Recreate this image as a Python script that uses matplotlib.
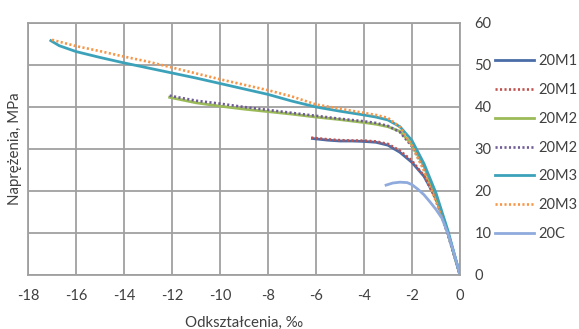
import matplotlib
matplotlib.use('Agg')
from matplotlib import pyplot as plt

plt.rcParams['font.family'] = ['Lato', 'DejaVu Sans']
plt.rcParams['axes.unicode_minus'] = False

# strain [permille] / stress [MPa] for each specimen
m1_x = [-6.15, -5.5, -5.0, -4.5, -4.0, -3.5, -3.0, -2.5, -2.0, -1.5, -1.0, -0.5, 0.0]
m1_y = [32.5, 32.1, 31.9, 31.9, 31.8, 31.6, 30.9, 29.2, 26.8, 23.5, 18.3, 10.0, 0.0]

m1b_x = [-6.2, -5.5, -5.0, -4.5, -4.0, -3.5, -3.0, -2.5, -2.0, -1.5, -1.0, -0.75]
m1b_y = [32.7, 32.3, 32.1, 32.0, 32.0, 31.8, 31.2, 29.6, 27.2, 23.6, 18.0, 14.3]

m2_x = [-12.1, -11.0, -10.0, -9.0, -8.0, -7.0, -6.0, -5.0, -4.0, -3.5, -3.0, -2.5, -2.0, -1.5, -1.0, -0.5, 0.0]
m2_y = [42.3, 41.0, 40.2, 39.5, 38.9, 38.3, 37.6, 37.0, 36.3, 35.9, 35.3, 34.2, 31.0, 25.8, 18.5, 9.8, 0.0]

m2b_x = [-12.1, -11.0, -10.0, -9.0, -8.0, -7.0, -6.0, -5.0, -4.0, -3.5, -3.0, -2.5, -2.0, -1.5, -1.0, -0.5, 0.0]
m2b_y = [42.7, 41.5, 40.8, 40.0, 39.3, 38.6, 37.9, 37.2, 36.6, 36.2, 35.5, 34.0, 30.6, 25.2, 18.0, 9.5, 0.0]

m3_x = [-17.05, -16.7, -16.0, -15.0, -14.0, -13.0, -12.0, -11.0, -10.0, -9.0, -8.0, -7.0, -6.0,
        -5.0, -4.0, -3.5, -3.0, -2.5, -2.0, -1.5, -1.0, -0.5, 0.0]
m3_y = [55.8, 54.6, 53.2, 51.8, 50.5, 49.3, 48.1, 46.9, 45.6, 44.3, 43.0, 41.4, 40.0,
        39.0, 38.1, 37.6, 36.9, 35.3, 32.0, 26.5, 19.5, 10.5, 0.0]

m3b_x = [-17.0, -16.0, -15.0, -14.0, -13.0, -12.0, -11.0, -10.0, -9.0, -8.0, -7.0, -6.0,
         -5.0, -4.0, -3.5, -3.0, -2.5, -2.0, -1.5, -1.0, -0.75]
m3b_y = [56.0, 54.5, 53.3, 52.0, 50.8, 49.4, 48.0, 46.6, 45.3, 44.0, 42.5, 40.6,
         39.6, 38.6, 38.1, 37.4, 35.2, 30.8, 24.8, 17.5, 13.5]

c_x = [-3.08, -2.8, -2.5, -2.2, -2.0, -1.75, -1.5, -1.25, -1.0, -0.75, -0.5, -0.25, 0.0]
c_y = [21.4, 21.9, 22.1, 22.0, 21.5, 20.4, 19.1, 17.4, 15.6, 13.5, 9.8, 5.2, 0.0]

x_ticks = [-18, -16, -14, -12, -10, -8, -6, -4, -2, 0]
y_ticks = [0, 10, 20, 30, 40, 50, 60]

series = [
    ('20M1', m1_x, m1_y, '#4A6DA7', '-'),
    ('20M1', m1b_x, m1b_y, '#C0504D', ':'),
    ('20M2', m2_x, m2_y, '#9BBB59', '-'),
    ('20M2', m2b_x, m2b_y, '#6F5B96', ':'),
    ('20M3', m3_x, m3_y, '#3CA2BA', '-'),
    ('20M3', m3b_x, m3b_y, '#F79646', ':'),
    ('20C', c_x, c_y, '#8FAADC', '-'),
]

W, H = 579, 329
fig = plt.figure(figsize=(W / 100, H / 100), dpi=100)
ax = fig.add_axes([28 / W, (H - 275) / H, 432 / W, 252 / H])

grey = '#A0A0A0'
txt = '#404040'

lines = []
for name, xs, ys, col, ls in series:
    if ls == ':':
        l, = ax.plot(xs, ys, color=col, lw=1.9, linestyle=(0, (0.8, 0.9)), label=name)
    else:
        l, = ax.plot(xs, ys, color=col, lw=2.0, label=name)
    lines.append(l)

ax.set_xlim(-18, 0)
ax.set_ylim(0, 60)
ax.set_xticks(x_ticks)
ax.set_yticks(y_ticks)
ax.grid(True, color=grey, lw=1.3)
ax.set_axisbelow(True)
for s in ax.spines.values():
    s.set_color(grey)
    s.set_linewidth(1.3)

ax.yaxis.tick_right()
ax.tick_params(axis='both', length=0, labelsize=10.5, colors=txt)
ax.tick_params(axis='y', pad=10.5)
ax.tick_params(axis='x', pad=10)
for lab in ax.get_yticklabels():
    lab.set_ha('left')

ax.set_xlabel('Odkształcenia, ‰', fontsize=10.8, color=txt)
ax.xaxis.set_label_coords(0.5, -0.19)
ax.xaxis.label.set_va('center')
ax.set_ylabel('Naprężenia, MPa', fontsize=10.8, color=txt)
ax.yaxis.set_label_position('left')
ax.yaxis.set_label_coords(-0.03, 0.502)
ax.yaxis.label.set_va('center')

fig.legend(handles=lines, loc='upper left', bbox_to_anchor=(495 / W, 1 - 54 / H),
           frameon=False, fontsize=10.5, labelcolor=txt, handlelength=2.7,
           handletextpad=0.3, labelspacing=1.02, borderpad=0, borderaxespad=0)

fig.savefig('out.png', dpi=100)
